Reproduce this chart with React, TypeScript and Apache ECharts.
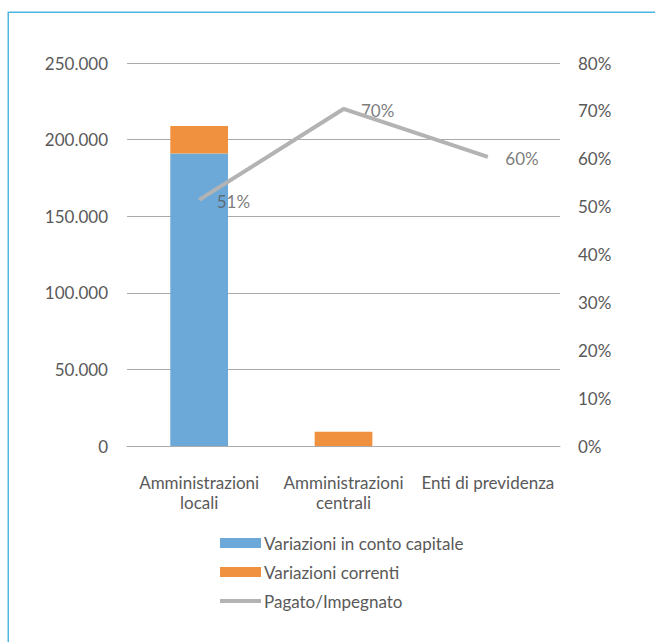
import React, { useEffect, useRef } from "react";
import * as echarts from "echarts";

const categories = ["Amministrazioni\nlocali", "Amministrazioni\ncentrali", "Enti di previdenza"];
const capitale = [191000, 0, 0];
const correnti = [17900, 9300, 0];
const pagatoImpegnato = [0.514, 0.704, 0.604];
const leftTicks = [0, 50000, 100000, 150000, 200000, 250000];
const rightTicks = [0, 0.1, 0.2, 0.3, 0.4, 0.5, 0.6, 0.7, 0.8];

const FONT = "Lato";
const TXT = "#595959";
const FS = 17;
const GRID = "#AAAAAA";
const LINE = "#B3B3B3";

function fmtThousands(v: number): string {
  return String(Math.round(v)).replace(/\B(?=(\d{3})+(?!\d))/g, ".");
}

export default function App() {
  const ref = useRef<HTMLDivElement>(null);
  useEffect(() => {
    if (!ref.current) return;
    const chart = echarts.init(ref.current, null, { renderer: "svg" });
    chart.setOption({
      animation: false,
      backgroundColor: "#ffffff",
      textStyle: { fontFamily: FONT },
      graphic: [
        {
          type: "rect",
          shape: { x: 8.25, y: 12.25, width: 800, height: 800 },
          style: { fill: "none", stroke: "#4DB5E1", lineWidth: 1.5 },
          silent: true,
        },
      ],
      grid: { left: 127, right: 95, top: 63, bottom: 196, containLabel: false },
      legend: {
        orient: "vertical",
        left: 220,
        top: 533,
        padding: 0,
        itemWidth: 41,
        itemHeight: 10,
        itemGap: 9,
        textStyle: { fontFamily: FONT, fontSize: FS, color: TXT, lineHeight: 20, padding: [0, 0, 0, -2] },
        data: [
          { name: "Variazioni in conto capitale", icon: "rect" },
          { name: "Variazioni correnti", icon: "rect" },
          {
            name: "Pagato/Impegnato",
            icon: "path://M0,0L0,0ZM0,3L41,3L41,7L0,7ZM41,10L41,10Z",
            itemStyle: { color: LINE },
            lineStyle: { width: 4, color: LINE },
          },
        ],
      },
      xAxis: {
        type: "category",
        data: categories,
        axisTick: { show: false },
        axisLine: { show: true, lineStyle: { color: GRID, width: 1 } },
        axisLabel: {
          color: TXT,
          fontFamily: FONT,
          fontSize: FS,
          lineHeight: 20,
          margin: 26,
          interval: 0,
        },
      },
      yAxis: [
        {
          type: "value",
          min: leftTicks[0],
          max: leftTicks[leftTicks.length - 1],
          interval: 50000,
          axisLine: { show: false },
          axisTick: { show: false },
          splitLine: { show: true, lineStyle: { color: GRID, width: 1 } },
          axisLabel: {
            color: TXT,
            fontFamily: FONT,
            fontSize: FS,
            margin: 19,
            formatter: (v: number) => fmtThousands(v),
          },
        },
        {
          type: "value",
          min: rightTicks[0],
          max: rightTicks[rightTicks.length - 1],
          interval: 0.1,
          position: "right",
          axisLine: { show: false },
          axisTick: { show: false },
          splitLine: { show: false },
          axisLabel: {
            color: TXT,
            fontFamily: FONT,
            fontSize: FS,
            margin: 18,
            formatter: (v: number) => Math.round(v * 100) + "%",
          },
        },
      ],
      series: [
        {
          name: "Variazioni in conto capitale",
          type: "bar",
          stack: "tot",
          barWidth: "40%",
          data: capitale,
          itemStyle: { color: "#6CA9D8" },
        },
        {
          name: "Variazioni correnti",
          type: "bar",
          stack: "tot",
          barWidth: "40%",
          data: correnti,
          itemStyle: { color: "#F0913F" },
        },
        {
          name: "Pagato/Impegnato",
          type: "line",
          yAxisIndex: 1,
          data: pagatoImpegnato,
          symbol: "none",
          lineStyle: { color: LINE, width: 4 },
          itemStyle: { color: LINE },
        },
        {
          name: "labels",
          type: "scatter",
          yAxisIndex: 1,
          data: pagatoImpegnato,
          symbolSize: 1,
          itemStyle: { color: "rgba(0,0,0,0)" },
          silent: true,
          label: {
            show: true,
            position: "right",
            distance: 17,
            offset: [0, 2],
            color: TXT,
            fontFamily: FONT,
            fontSize: FS,
            formatter: (p: any) => Math.round(p.value * 100) + "%",
          },
        },
      ],
    });
    return () => chart.dispose();
  }, []);
  return (
    <div
      ref={ref}
      style={{ position: "absolute", left: 0, top: 0, width: 655, height: 642 }}
    />
  );
}
